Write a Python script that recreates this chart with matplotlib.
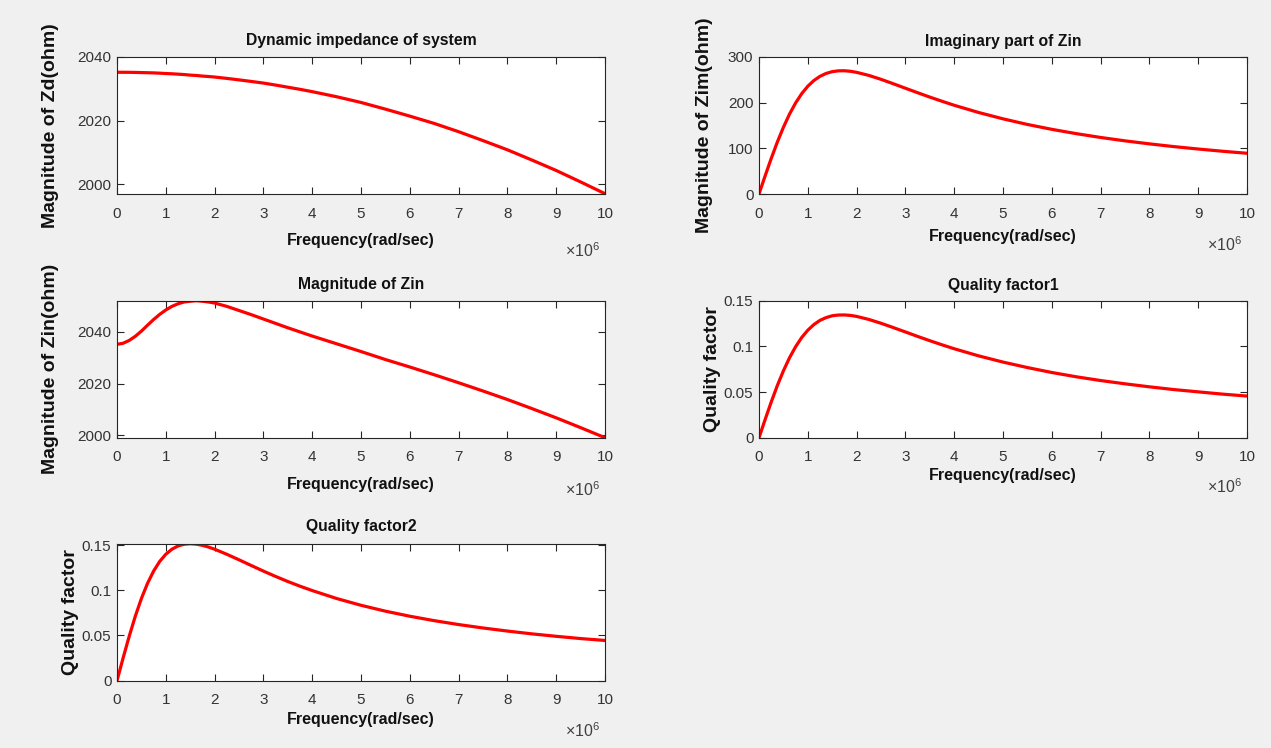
import matplotlib
matplotlib.use("Agg")
import matplotlib.pyplot as plt

plt.rcParams['font.family'] = ['Liberation Sans', 'DejaVu Sans']
plt.rcParams['mathtext.fontset'] = 'custom'
plt.rcParams['mathtext.rm'] = 'Liberation Sans'
plt.rcParams['mathtext.it'] = 'Liberation Sans'

# Frequency (x 10^6 rad/sec)
freq = [0, 0.125, 0.25, 0.375, 0.5, 0.625, 0.75, 0.875, 1, 1.125, 1.25, 1.375,
        1.5, 1.625, 1.75, 1.875, 2, 2.25, 2.5, 2.75, 3, 3.25, 3.5, 3.75, 4,
        4.5, 5, 5.5, 6, 6.5, 7, 7.5, 8, 8.5, 9, 9.5, 10]

zd = [2035.2, 2035.19, 2035.18, 2035.15, 2035.1, 2035.05, 2035.0, 2034.91,
      2034.8, 2034.72, 2034.6, 2034.48, 2034.3, 2034.19, 2034.0, 2033.86,
      2033.7, 2033.27, 2032.8, 2032.31, 2031.8, 2031.17, 2030.5, 2029.83,
      2029.1, 2027.5, 2025.7, 2023.6, 2021.4, 2019.1, 2016.5, 2013.7, 2010.8,
      2007.6, 2004.3, 2000.7, 1997.0]

zim = [0, 39.5, 77.7, 113.6, 146.0, 174.9, 199.4, 219.7, 236.0, 248.5, 257.7,
       264.0, 267.9, 269.7, 269.9, 268.7, 266.4, 259.7, 251.1, 241.5, 231.6,
       221.8, 212.2, 203.1, 194.3, 178.5, 164.6, 152.3, 141.6, 132.2, 123.8,
       116.4, 109.8, 103.8, 98.5, 93.6, 89.2]

zin = [2035.2, 2035.6, 2036.7, 2038.3, 2040.3, 2042.6, 2044.8, 2046.8, 2048.5,
       2049.9, 2050.9, 2051.6, 2051.9, 2052.1, 2051.9, 2051.6, 2051.2, 2049.9,
       2048.3, 2046.7, 2045.0, 2043.3, 2041.6, 2040.0, 2038.4, 2035.4, 2032.4,
       2029.3, 2026.4, 2023.4, 2020.3, 2017.1, 2013.8, 2010.3, 2006.7, 2002.9,
       1999.0]

q1 = [0, 0.0198, 0.0390, 0.0570, 0.0732, 0.0875, 0.0996, 0.1097, 0.1177,
      0.1239, 0.1285, 0.1315, 0.1335, 0.1343, 0.1344, 0.1339, 0.1328, 0.1295,
      0.1253, 0.1206, 0.1158, 0.1109, 0.1062, 0.1017, 0.0974, 0.0896, 0.0828,
      0.0768, 0.0714, 0.0667, 0.0626, 0.0590, 0.0557, 0.0527, 0.0502, 0.0477,
      0.0456]

q2 = [0, 0.0251, 0.0491, 0.0713, 0.0909, 0.1076, 0.1212, 0.1319, 0.1398,
      0.1454, 0.1490, 0.1509, 0.1515, 0.1510, 0.1497, 0.1478, 0.1454, 0.1398,
      0.1337, 0.1274, 0.1212, 0.1153, 0.1097, 0.1045, 0.0997, 0.0909, 0.0834,
      0.0769, 0.0713, 0.0664, 0.0621, 0.0583, 0.0549, 0.0518, 0.0491, 0.0466,
      0.0445]

xticks = [0, 1, 2, 3, 4, 5, 6, 7, 8, 9, 10]
xticklabels = ['0', '1', '2', '3', '4', '5', '6', '7', '8', '9', '10']

titles = ['Dynamic impedance of system', 'Imaginary part of Zin', 'Magnitude of Zin',
          'Quality factor1', 'Quality factor2']
ylabels = ['Magnitude of Zd(ohm)', 'Magnitude of Zim(ohm)', 'Magnitude of Zin(ohm)',
           'Quality factor', 'Quality factor']
xlabel = 'Frequency(rad/sec)'
series = [zd, zim, zin, q1, q2]

yticks = [[2000, 2020, 2040], [0, 100, 200, 300], [2000, 2020, 2040],
          [0, 0.05, 0.1, 0.15], [0, 0.05, 0.1, 0.15]]
yticklabels = [['2000', '2020', '2040'], ['0', '100', '200', '300'],
               ['2000', '2020', '2040'], ['0', '0.05', '0.1', '0.15'],
               ['0', '0.05', '0.1', '0.15']]
ylims = [(1996.9, 2040.0), (0, 300), (1999.0, 2052.1), (0, 0.15), (0, 0.1515)]

W, H = 1271, 748
fig = plt.figure(figsize=(W / 100, H / 100), dpi=100, facecolor='#f0f0f0')

lefts = [117, 759, 117, 759, 117]
bottoms = [194, 194, 437.7, 437.7, 680.7]
aw, ah = 488, 137

ylab_x = [-0.137, -0.111, -0.137, -0.096, -0.096]
xlab_y = [-0.336, -0.307, -0.338, -0.274, -0.28]
mult_y = [-0.416, -0.372, -0.38, -0.36, -0.367]
title_y = [1.124, 1.11, 1.12, 1.11, 1.126]

edge = '#262626'
for i in range(5):
    ax = fig.add_axes([lefts[i] / W, 1 - bottoms[i] / H, aw / W, ah / H])
    ax.plot(freq, series[i], color='red', lw=2.3, solid_joinstyle='round')
    ax.set_xlim(0, 10)
    ax.set_ylim(*ylims[i])
    ax.set_xticks(xticks)
    ax.set_xticklabels(xticklabels)
    ax.set_yticks(yticks[i])
    ax.set_yticklabels(yticklabels[i])
    ax.tick_params(direction='in', top=True, right=True, length=5, width=0.8,
                   color=edge, labelcolor='#333333', labelsize=11)
    ax.tick_params(axis='x', pad=9)
    ax.tick_params(axis='y', pad=4)
    for s in ax.spines.values():
        s.set_color(edge)
        s.set_linewidth(0.8)
    ax.set_title(titles[i], fontsize=11.3, fontweight='bold', y=title_y[i],
                 va='center', pad=0, color='#111111')
    ax.set_ylabel(ylabels[i], fontsize=14, fontweight='bold', color='#111111')
    ax.yaxis.set_label_coords(ylab_x[i], 0.5)
    ax.yaxis.label.set_va('center')
    ax.set_xlabel(xlabel, fontsize=11.5, fontweight='bold', color='#111111')
    ax.xaxis.set_label_coords(0.5, xlab_y[i])
    ax.xaxis.label.set_va('center')
    ax.text(0.99, mult_y[i], r'$\times10^{6}$', transform=ax.transAxes,
            ha='right', va='center', fontsize=11.5, color='#404040')

fig.savefig('out.png', dpi=100, facecolor=fig.get_facecolor())
